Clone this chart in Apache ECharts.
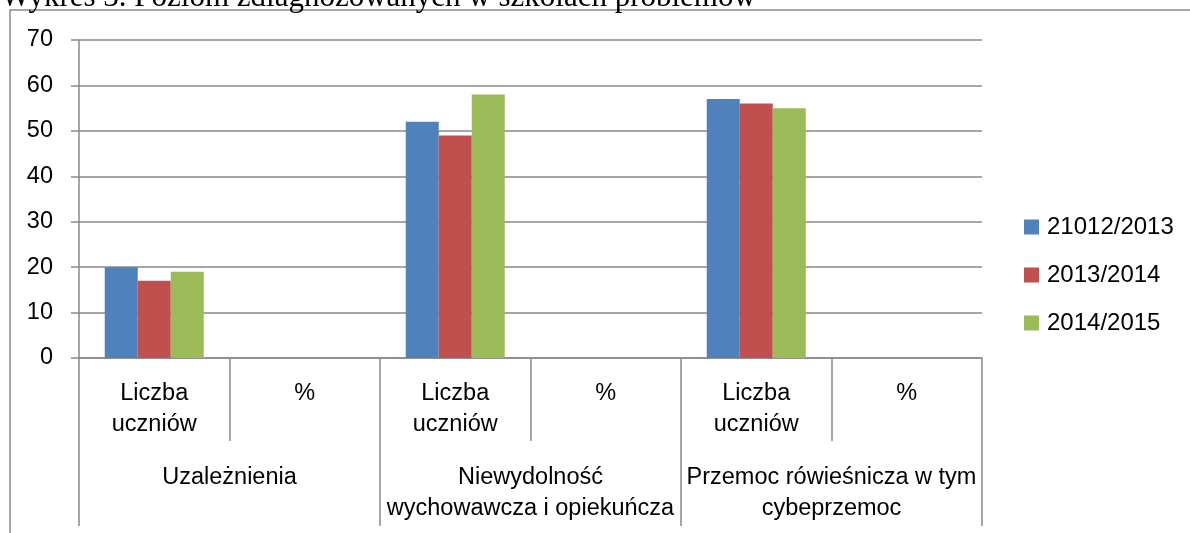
<!DOCTYPE html>
<html>
<head>
<meta charset="utf-8">
<script src="https://cdn.jsdelivr.net/npm/echarts@6/dist/echarts.min.js"></script>
<style>
html,body{margin:0;padding:0;background:#fff;}
#chart{width:1190px;height:533px;}
</style>
</head>
<body>
<div id="chart"></div>
<script>
const titleText = 'Wykres 3. Poziom zdiagnozowanych w szkołach problemów';
const innerCategories = ['Liczba\nuczniów', '%', 'Liczba\nuczniów', '%', 'Liczba\nuczniów', '%'];
const outerCategories = ['Uzależnienia', 'Niewydolność\nwychowawcza i opiekuńcza', 'Przemoc rówieśnicza w tym\ncybeprzemoc'];
const seriesNames = ['21012/2013', '2013/2014', '2014/2015'];
const values2012 = [20, null, 52, null, 57, null];
const values2013 = [17, null, 49, null, 56, null];
const values2014 = [19, null, 58, null, 55, null];
const yTicks = [0, 10, 20, 30, 40, 50, 60, 70];
const colors = ['#4F81BD', '#C0504D', '#9BBB59'];

const FONT = '"Liberation Sans", Arial, sans-serif';
const GRAY = '#898989';
const chart = echarts.init(document.getElementById('chart'), null, {renderer: 'canvas'});
const allValues = [values2012, values2013, values2014];

chart.setOption({
  animation: false,
  color: colors,
  textStyle: {fontFamily: FONT},
  graphic: [
    {type: 'rect', shape: {x: 10, y: 10, width: 1400, height: 800},
     style: {fill: 'none', stroke: GRAY, lineWidth: 1.5}, silent: true, z: -10},
    {type: 'text', x: 1, y: -2,
     style: {text: titleText, font: '31px "Liberation Serif", "Times New Roman", serif',
             fill: '#000', textVerticalAlign: 'middle', textAlign: 'left'}}
  ],
  grid: {left: 79, right: 208, top: 40, bottom: 175, containLabel: false},
  legend: {
    orient: 'vertical', left: 1024, top: 215, padding: 0,
    itemWidth: 15, itemHeight: 15, itemGap: 24, icon: 'rect',
    textStyle: {fontSize: 24, fontFamily: FONT, color: '#000', lineHeight: 24, padding: [0,0,0,3]},
    data: seriesNames
  },
  xAxis: [
    {
      type: 'category', data: innerCategories, position: 'bottom',
      axisLine: {show: true, lineStyle: {color: GRAY, width: 1.5}},
      axisTick: {show: true, interval: 0, length: 83, alignWithLabel: false, lineStyle: {color: GRAY, width: 1.5}},
      axisLabel: {interval: 0, margin: 20, fontSize: 23.5, lineHeight: 31, color: '#000',
                  fontFamily: FONT, verticalAlign: 'top', align: 'center'},
      splitLine: {show: false}
    },
    {
      type: 'category', data: outerCategories, position: 'bottom', offset: 0,
      axisLine: {show: false},
      axisTick: {show: true, interval: 0, length: 168, alignWithLabel: false, lineStyle: {color: GRAY, width: 1.5}},
      axisLabel: {interval: 0, margin: 104, fontSize: 23.5, lineHeight: 31, color: '#000',
                  fontFamily: FONT, verticalAlign: 'top', align: 'center'},
      splitLine: {show: false}
    }
  ],
  yAxis: {
    type: 'value', min: yTicks[0], max: yTicks[yTicks.length - 1], interval: 10,
    axisLine: {show: true, lineStyle: {color: GRAY, width: 1.5}},
    axisTick: {show: true, inside: false, length: 8, lineStyle: {color: GRAY, width: 1.5}},
    axisLabel: {fontSize: 23.5, color: '#000', margin: 26, fontFamily: FONT},
    splitLine: {show: true, lineStyle: {color: GRAY, width: 1.5}}
  },
  series: seriesNames.map((name, i) => ({
    name: name, type: 'bar', xAxisIndex: 0, data: allValues[i],
    barWidth: 33, barGap: '0%',
    itemStyle: {color: colors[i]}
  }))
});
</script>
</body>
</html>
